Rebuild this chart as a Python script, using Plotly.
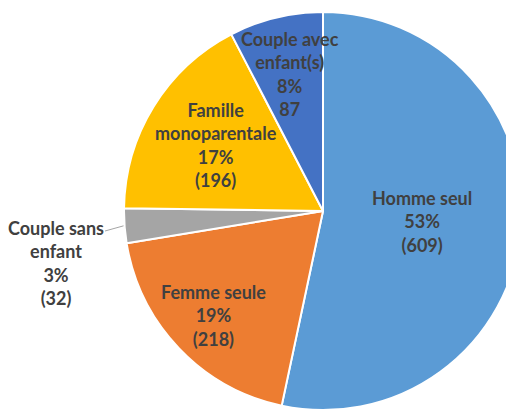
import math

import plotly.graph_objects as go

# data
categories = ["Homme seul", "Femme seule", "Couple sans enfant",
              "Famille monoparentale", "Couple avec enfant(s)"]
counts = [609, 218, 32, 196, 87]

# display names with line breaks, as in the original labels
label_names = ["Homme seul", "Femme seule", "Couple sans<br>enfant",
               "Famille<br>monoparentale", "Couple avec<br>enfant(s)"]
count_fmt = ["({})", "({})", "({})", "({})", "{}"]
colors = ["#5B9BD5", "#ED7D31", "#A5A5A5", "#FFC000", "#4472C4"]

W, H = 514, 414
# pie placement in figure pixels (page shows the figure with an 8px body margin)
cx, cy, R = 315, 203, 199
# label distance from centre as a fraction of the radius (None = outside)
label_frac = [0.50, 0.76, None, 0.63, 0.71]
text_color = "#404040"
font = dict(family="Lato", size=18, color=text_color, weight="bold")

fig = go.Figure(go.Pie(
    labels=categories,
    values=counts,
    sort=False,
    direction="clockwise",
    rotation=0,
    marker=dict(colors=colors, line=dict(color="white", width=2)),
    textinfo="none",
    hoverinfo="label+value+percent",
    domain=dict(x=[(cx - R) / W, min((cx + R) / W, 1)],
                y=[(H - cy - R) / H, (H - cy + R) / H]),
    showlegend=False,
))

total = sum(counts)
start = 0.0
annotations = []
shapes = []
for name, n, fmt, f in zip(label_names, counts, count_fmt, label_frac):
    share = n / total
    mid = (start + share / 2) * 2 * math.pi
    start += share
    dx, dy = math.sin(mid), -math.cos(mid)
    text = "{}<br>{}%<br>{}".format(name, round(share * 100), fmt.format(n))
    if f is not None:
        px_, py_ = cx + f * R * dx, cy + f * R * dy
        annotations.append(dict(x=px_ / W, y=1 - py_ / H, xref="paper", yref="paper",
                                text=text, showarrow=False, font=font,
                                xanchor="center", yanchor="middle", align="center"))
    else:
        # outside label with a short leader line to the slice edge
        ex, ey = cx + (R + 1) * dx, cy + (R + 1) * dy
        lx, ly = 48, 255
        annotations.append(dict(x=lx / W, y=1 - ly / H, xref="paper", yref="paper",
                                text=text, showarrow=False, font=font,
                                xanchor="center", yanchor="middle", align="center"))
        shapes.append(dict(type="line", xref="paper", yref="paper",
                           x0=97 / W, y0=1 - 223 / H, x1=ex / W, y1=1 - ey / H,
                           line=dict(color="#A5A5A5", width=1)))

fig.update_layout(
    width=W, height=H,
    margin=dict(l=0, r=0, t=0, b=0),
    paper_bgcolor="white",
    annotations=annotations,
    shapes=shapes,
)

fig.write_html("out.html")
